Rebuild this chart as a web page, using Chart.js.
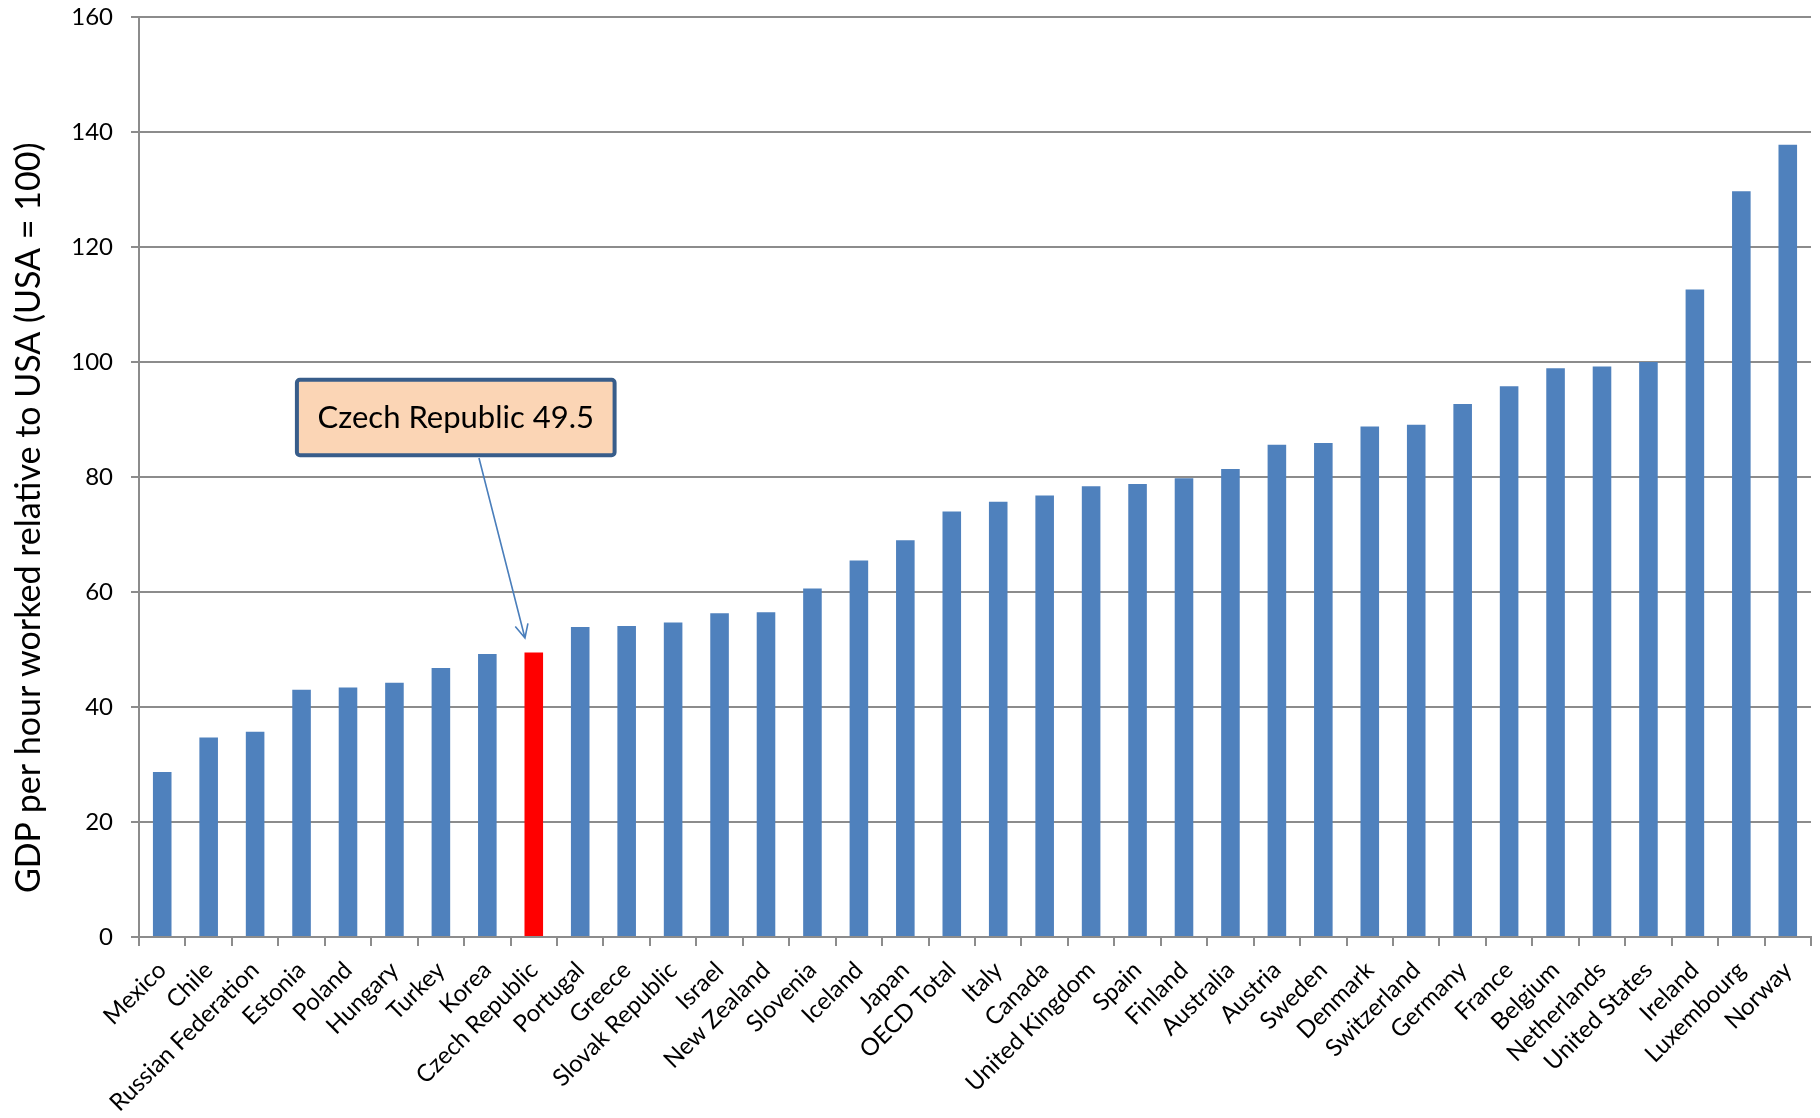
<!DOCTYPE html>
<html lang="en">
<head>
<meta charset="UTF-8" />
<title>GDP per hour worked relative to USA</title>
<script src="https://cdn.jsdelivr.net/npm/chart.js"></script>
<style>
    html, body { margin: 0; padding: 0; background: #fff; }
    #wrap { width: 1820px; height: 1118px; }
</style>
</head>
<body>
<div id="wrap"><canvas id="gdpChart"></canvas></div>
<script>
    const countries = [
        'Mexico', 'Chile', 'Russian Federation', 'Estonia', 'Poland', 'Hungary',
        'Turkey', 'Korea', 'Czech Republic', 'Portugal', 'Greece', 'Slovak Republic',
        'Israel', 'New Zealand', 'Slovenia', 'Iceland', 'Japan', 'OECD Total',
        'Italy', 'Canada', 'United Kingdom', 'Spain', 'Finland', 'Australia',
        'Austria', 'Sweden', 'Denmark', 'Switzerland', 'Germany', 'France',
        'Belgium', 'Netherlands', 'United States', 'Ireland', 'Luxembourg', 'Norway'
    ];
    const gdpPerHour = [
        28.7, 34.7, 35.7, 43.0, 43.4, 44.2,
        46.8, 49.2, 49.5, 53.9, 54.1, 54.7,
        56.3, 56.5, 60.6, 65.5, 69.0, 74.0,
        75.7, 76.8, 78.4, 78.8, 79.8, 81.4,
        85.6, 85.9, 88.8, 89.1, 92.7, 95.8,
        98.9, 99.2, 100.0, 112.6, 129.7, 137.8
    ];
    const highlightCountry = 'Czech Republic';
    const yTitle = 'GDP per hour worked relative to USA (USA = 100)';
    const yMin = 0, yMax = 160, yStep = 20;

    const blue = '#4F81BD';
    const red = '#FF0000';
    const gridGray = '#8c8c8c';
    const fontFamily = 'Lato, "Open Sans", sans-serif';

    // callout box, placed in data units (category index / value)
    const hlIndex = countries.indexOf(highlightCountry);
    const callout = {
        text: highlightCountry + ' ' + gdpPerHour[hlIndex],
        left: 2.9, right: 9.74, top: 96.9, bottom: 83.8,
        fromX: 6.82, fromY: 83.3,
        toX: hlIndex - 0.19, toY: gdpPerHour[hlIndex] + 2.5
    };

    const calloutPlugin = {
        id: 'callout',
        afterDatasetsDraw(chart) {
            const ctx = chart.ctx;
            const xs = chart.scales.x, ys = chart.scales.y;

            // arrow
            const x1 = xs.getPixelForValue(callout.fromX), y1 = ys.getPixelForValue(callout.fromY);
            const x2 = xs.getPixelForValue(callout.toX), y2 = ys.getPixelForValue(callout.toY);
            ctx.save();
            ctx.strokeStyle = '#4A7EBB';
            ctx.lineWidth = 1.6;
            ctx.beginPath();
            ctx.moveTo(x1, y1);
            ctx.lineTo(x2, y2);
            const ang = Math.atan2(y2 - y1, x2 - x1);
            const head = 15, spread = 0.45;
            ctx.moveTo(x2 - head * Math.cos(ang - spread), y2 - head * Math.sin(ang - spread));
            ctx.lineTo(x2, y2);
            ctx.lineTo(x2 - head * Math.cos(ang + spread), y2 - head * Math.sin(ang + spread));
            ctx.stroke();

            // box
            const bl = xs.getPixelForValue(callout.left), br = xs.getPixelForValue(callout.right);
            const bt = ys.getPixelForValue(callout.top), bb = ys.getPixelForValue(callout.bottom);
            ctx.beginPath();
            ctx.roundRect(bl, bt, br - bl, bb - bt, 3);
            ctx.fillStyle = '#FBD5B5';
            ctx.fill();
            ctx.lineWidth = 4;
            ctx.strokeStyle = '#385D8A';
            ctx.stroke();

            ctx.fillStyle = '#000';
            ctx.font = '31px ' + fontFamily;
            ctx.textAlign = 'center';
            ctx.textBaseline = 'middle';
            ctx.fillText(callout.text, (bl + br) / 2, (bt + bb) / 2 + 1);
            ctx.restore();
        }
    };

    // y axis title, sitting a bit below the middle of the axis like the original
    const yTitlePlugin = {
        id: 'yTitle',
        afterDraw(chart) {
            const ctx = chart.ctx;
            const ys = chart.scales.y;
            ctx.save();
            ctx.translate(ys.left + 29, ys.getPixelForValue(72.9));
            ctx.rotate(-Math.PI / 2);
            ctx.fillStyle = '#000';
            ctx.font = '34px ' + fontFamily;
            ctx.textAlign = 'center';
            ctx.textBaseline = 'middle';
            ctx.fillText(yTitle, 0, 0);
            ctx.restore();
        }
    };

    new Chart(document.getElementById('gdpChart'), {
        type: 'bar',
        data: {
            labels: countries,
            datasets: [{
                data: gdpPerHour,
                backgroundColor: countries.map(c => c === highlightCountry ? red : blue),
                borderWidth: 0,
                barPercentage: 0.4,
                categoryPercentage: 1.0
            }]
        },
        options: {
            responsive: true,
            maintainAspectRatio: false,
            animation: false,
            layout: { padding: { top: 17, right: 9, left: 0, bottom: 0 } },
            plugins: {
                legend: { display: false },
                tooltip: { enabled: false }
            },
            scales: {
                x: {
                    afterFit(scale) { scale.height = 181; },
                    grid: {
                        drawOnChartArea: false,
                        drawTicks: true,
                        tickLength: 9,
                        color: gridGray,
                        lineWidth: 2
                    },
                    border: { color: gridGray, width: 2 },
                    ticks: {
                        autoSkip: false,
                        minRotation: 45,
                        maxRotation: 45,
                        padding: 10,
                        color: '#000',
                        font: { family: fontFamily, size: 24 }
                    }
                },
                y: {
                    min: yMin,
                    max: yMax,
                    afterFit(scale) {
                        scale.width = 139;
                        scale.paddingTop = 0;
                        scale.paddingBottom = 0;
                    },
                    grid: {
                        color: gridGray,
                        lineWidth: 2,
                        tickLength: 8
                    },
                    border: { color: gridGray, width: 2 },
                    ticks: {
                        stepSize: yStep,
                        padding: 18,
                        color: '#000',
                        font: { family: fontFamily, size: 24 }
                    }
                }
            }
        },
        plugins: [calloutPlugin, yTitlePlugin]
    });
</script>
</body>
</html>
